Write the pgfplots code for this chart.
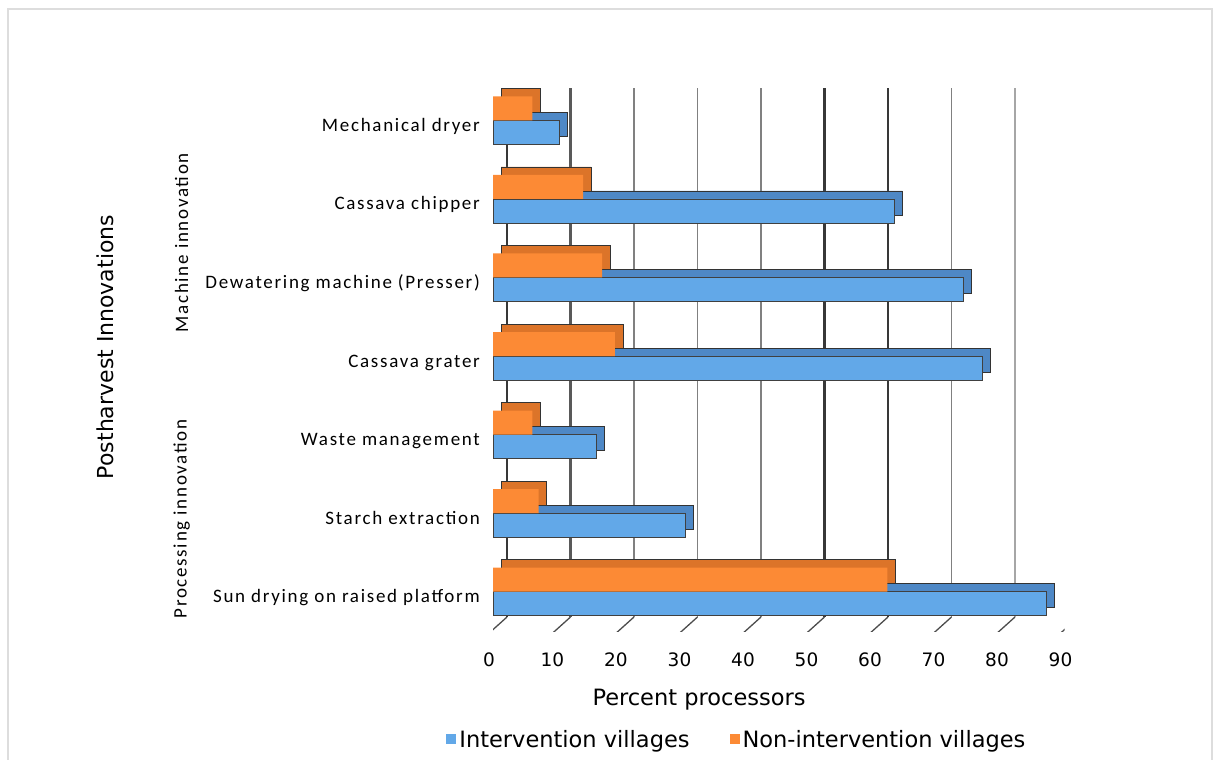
\documentclass[border=0pt]{standalone}
\usepackage{fontspec}
\setmainfont{DejaVu Sans}
\newfontfamily\catfont[LetterSpace=9]{Carlito}
\usepackage{pgfplots}
\pgfplotsset{compat=1.18}
\usepackage{pgfplotstable}

\definecolor{bluefront}{HTML}{62A8E8}
\definecolor{blueback}{HTML}{4E88C6}
\definecolor{orangefront}{HTML}{FC8A35}
\definecolor{orangeback}{HTML}{DC7429}
\definecolor{framegray}{HTML}{DDDDDD}

% category index (0 = bottom), intervention, non-intervention (percent)
\pgfplotstableread{
y inter non
0 87.1 62.1
1 30.3 7.2
2 16.3 6.2
3 77.1 19.2
4 74.1 17.2
5 63.2 14.2
6 10.4 6.2
}\postharvest

% back-wall grid line plus slanted floor tick
\newcommand{\gridl}[2]{%
  \draw[#2] ([xshift=14pt,yshift=14pt]axis cs:#1,-0.5) -- ([xshift=14pt,yshift=-7pt]axis cs:#1,6.5);
  \draw[black!70, line width=1.3pt] ([xshift=14pt,yshift=14pt]axis cs:#1,-0.5) -- ([xshift=-6pt,yshift=-4pt]axis cs:#1,-0.5);
}

\begin{document}
\begin{tikzpicture}[x=1pt,y=1pt]
\useasboundingbox (0,0) rectangle (1215,-760);
\draw[framegray, line width=2pt] (7.5,-760) -- (7.5,-9.5) -- (1211.5,-9.5) -- (1211.5,-760);

\begin{axis}[
  at={(493pt,-631pt)}, anchor=south west,
  scale only axis, width=571.5pt, height=550pt,
  xmin=0, xmax=90, ymin=-0.5, ymax=6.5,
  axis line style={draw=none},
  xtick style={draw=none}, ytick style={draw=none},
  major tick length=0pt,
  xtick={0,10,...,90},
  ytick={0,...,6},
  yticklabels={Sun drying on raised platform, Starch extraction, Waste management\hspace{5pt}, Cassava grater, Dewatering machine (Presser), Cassava chipper, Mechanical dryer},
  yticklabel style={font=\catfont\fontsize{19}{21}\selectfont, anchor=east, inner sep=0pt, xshift=-13pt, yshift=-5pt, text height=12pt, text depth=0pt},
  xticklabel style={font=\fontsize{18.5}{20}\selectfont, anchor=north, inner sep=0pt, xshift=-4pt, yshift=-22pt},
  /pgf/number format/assume math mode=true,
  legend columns=2,
  legend cell align=left,
  legend image code/.code={\fill[#1, draw=none] (0pt,-5pt) rectangle (10pt,5pt);},
  legend style={at={(0.425,-0.197)}, anchor=center, draw=none, fill=none,
    font=\fontsize{22.5}{26}\selectfont, nodes={inner sep=0pt},
    /tikz/every odd column/.append style={column sep=3pt},
    /tikz/every even column/.append style={column sep=40pt}},
]
\gridl{0}{black!78, line width=2.6pt}
\gridl{10}{black!65, line width=2.1pt}
\gridl{20}{black!50, line width=1.6pt}
\gridl{30}{black!50, line width=1.6pt}
\gridl{40}{black!50, line width=1.6pt}
\gridl{50}{black!78, line width=2.6pt}
\gridl{60}{black!78, line width=2.6pt}
\gridl{70}{black!50, line width=1.6pt}
\gridl{80}{black!35, line width=1.5pt}
\gridl{90}{black!50, line width=1.6pt}

\addplot[xbar, bar width=24pt, bar shift=-12pt, xshift=8pt, yshift=8pt, fill=blueback, draw=black!80, line width=0.7pt, forget plot] table[x=inter, y=y] {\postharvest};
\addplot[xbar, bar width=24pt, bar shift=-12pt, fill=bluefront, draw=black!75, line width=0.6pt] table[x=inter, y=y] {\postharvest};
\addplot[xbar, bar width=24pt, bar shift=12pt, xshift=8pt, yshift=8pt, fill=orangeback, draw=black!80, line width=0.7pt, forget plot] table[x=non, y=y] {\postharvest};
\addplot[xbar, bar width=24pt, bar shift=12pt, fill=orangefront, draw=none] table[x=non, y=y] {\postharvest};
\legend{Intervention villages, Non-intervention villages}
\end{axis}

\node[rotate=90, font=\fontsize{22}{24}\selectfont] at (105,-347) {Postharvest Innovations};
\node[rotate=90, font=\catfont\fontsize{19}{21}\selectfont] at (181.7,-242.7) {Machine innovation};
\node[rotate=90, font=\catfont\fontsize{19}{21}\selectfont] at (181.7,-519) {Processing innovation};
\node[anchor=base, font=\fontsize{22.5}{24}\selectfont] at (699,-705) {Percent processors};
\end{tikzpicture}
\end{document}
